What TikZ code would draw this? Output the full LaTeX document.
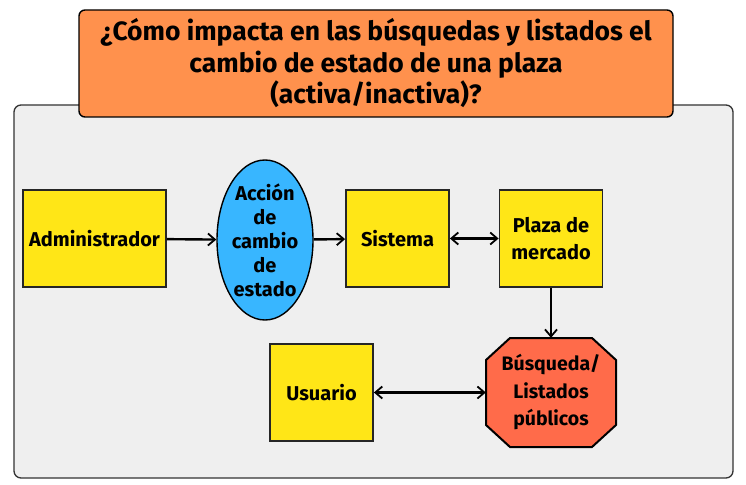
\documentclass[tikz,border=0pt]{standalone}
\usepackage{fontspec}
\setmainfont{Fira Sans}
\usetikzlibrary{arrows.meta,positioning,shapes.geometric,calc}
\definecolor{colT}{RGB}{255,145,77}
\definecolor{colY}{RGB}{255,230,23}
\definecolor{colB}{RGB}{56,182,255}
\definecolor{colR}{RGB}{255,107,74}
\definecolor{colP}{RGB}{239,239,239}
\tikzset{
  box/.style ={draw=black!85,line width=1.8pt,fill=colY,minimum width=103pt,minimum height=97pt,
               inner sep=2pt,align=center,font=\fontsize{20}{27}\selectfont\bfseries},
  ell/.style ={ellipse,draw=black,line width=1.4pt,fill=colB,minimum width=96pt,minimum height=160pt,
               inner sep=0pt,align=center,font=\fontsize{20}{24}\selectfont\bfseries},
  oct/.style ={minimum width=130pt,minimum height=109pt,inner sep=0pt,align=center,
               font=\fontsize{19.5}{27.5}\selectfont\bfseries},
  ar/.style  ={-{Straight Barb[length=7pt,width=12pt,line width=1.8pt]},line width=2.4pt},
  dar/.style ={{Straight Barb[length=7pt,width=12pt,line width=1.8pt]}-{Straight Barb[length=7pt,width=12pt,line width=1.8pt]},line width=2.4pt},
}
\begin{document}
\begin{tikzpicture}[x=1pt,y=-1pt]
  \useasboundingbox (0,0) rectangle (746,484);
  % panel and title
  \draw[fill=colP,draw=black!80,line width=1.3pt,rounded corners=7pt] (14,105) rectangle (733,478);
  \node[draw=black,line width=1.4pt,fill=colT,rounded corners=6pt,minimum width=594pt,minimum height=107pt,
        align=center,font=\fontsize{26.5}{31.5}\selectfont\bfseries] (title) at (376,63.5)
        {¿Cómo impacta en las búsquedas y listados el\\cambio de estado de una plaza\\(activa/inactiva)?};
  % nodes
  \node[box,minimum width=143pt] (admin) at (94.5,238.5) {Administrador};
  \node[ell] (accion) at (265,240) {Acción\\de\\cambio\\de\\estado};
  \node[box] (sistema) at (397.5,238.5) {Sistema};
  \node[box] (plaza) at (551,238.5) {Plaza de\\mercado};
  \coordinate (oc) at (551,392.5);
  \fill[colR,draw=black,line width=2pt]
    ($(oc)+(-41,-54.5)$) -- ($(oc)+(41,-54.5)$) -- ($(oc)+(65,-32.5)$) -- ($(oc)+(65,32.5)$)
    -- ($(oc)+(41,54.5)$) -- ($(oc)+(-41,54.5)$) -- ($(oc)+(-65,32.5)$) -- ($(oc)+(-65,-32.5)$) -- cycle;
  \node[oct] (busq) at (oc) {Búsqueda/\\Listados\\públicos};
  \node[box] (usuario) at (321.5,392.5) {Usuario};
  % connectors
  \draw[ar] (admin) -- (accion);
  \draw[ar] (accion) -- (sistema);
  \draw[dar] (sistema) -- (plaza);
  \draw[ar] (plaza) -- (busq);
  \draw[dar] (usuario) -- (busq);
\end{tikzpicture}
\end{document}
